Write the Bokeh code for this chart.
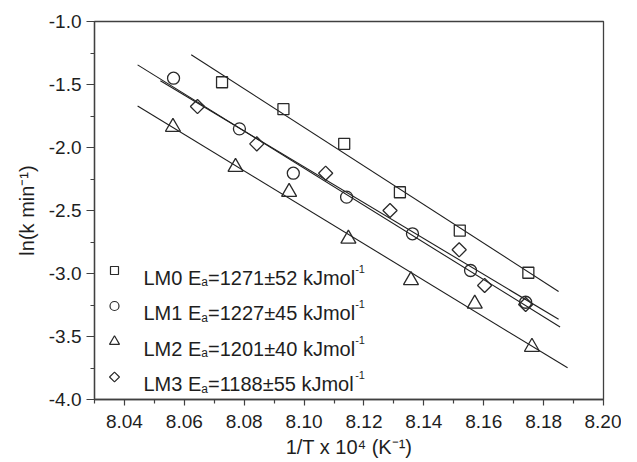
import numpy as np
from bokeh.plotting import figure
from bokeh.models import Range1d, Label, FixedTicker
from bokeh.embed import file_html
from bokeh.resources import INLINE

# ---------------- data ----------------
series_names = ["LM0", "LM1", "LM2", "LM3"]
ea_values = [1271, 1227, 1201, 1188]
ea_errors = [52, 45, 40, 55]

lm0_x = [8.0726, 8.0931, 8.1134, 8.1320, 8.1520, 8.1749]
lm0_y = [-1.482, -1.696, -1.971, -2.355, -2.659, -2.994]
lm1_x = [8.0564, 8.0784, 8.0964, 8.1142, 8.1362, 8.1556, 8.1740]
lm1_y = [-1.450, -1.852, -2.204, -2.394, -2.685, -2.976, -3.228]
lm2_x = [8.0562, 8.0771, 8.0950, 8.1148, 8.1357, 8.1570, 8.1761]
lm2_y = [-1.837, -2.155, -2.353, -2.724, -3.054, -3.240, -3.583]
lm3_x = [8.0644, 8.0842, 8.1072, 8.1287, 8.1518, 8.1603, 8.1740]
lm3_y = [-1.675, -1.971, -2.204, -2.500, -2.812, -3.095, -3.246]

# x extent of each linear fit line
fit_x_start = [8.0623, 8.0444, 8.0444, 8.0520]
fit_x_end = [8.1850, 8.1855, 8.1880, 8.1850]

x_ticks = [8.04, 8.06, 8.08, 8.10, 8.12, 8.14, 8.16, 8.18, 8.20]
x_tick_labels = ["8.04", "8.06", "8.08", "8.10", "8.12", "8.14", "8.16", "8.18", "8.20"]
x_minor = [8.03, 8.05, 8.07, 8.09, 8.11, 8.13, 8.15, 8.17, 8.19]
y_ticks = [-4.0, -3.5, -3.0, -2.5, -2.0, -1.5, -1.0]
y_tick_labels = ["-4.0", "-3.5", "-3.0", "-2.5", "-2.0", "-1.5", "-1.0"]
y_minor = [-3.75, -3.25, -2.75, -2.25, -1.75, -1.25]
x_title = "1/T x 10\u2074 (K\u207b\u00b9)"
y_title = "ln(k min\u207b\u00b9)"

# ---------------- layout ----------------
X0, X1 = 8.03, 8.20
Y0, Y1 = -4.0, -1.0
FL, FT, FW, FH = 94, 21, 509, 378   # frame position/size in px

FONT = "Liberation Sans"
INK = "#1e1e1e"
AX = "#404040"

p = figure(output_backend="svg", toolbar_location=None,
           x_range=Range1d(X0, X1), y_range=Range1d(Y0, Y1),
           frame_width=FW, frame_height=FH,
           min_border_left=FL, min_border_top=FT,
           min_border_right=18, min_border_bottom=40)
p.background_fill_color = "white"
p.border_fill_color = "white"
p.outline_line_color = AX
p.outline_line_width = 1.3
p.xgrid.visible = False
p.ygrid.visible = False

def px2x(px):
    return X0 + (px - FL) / FW * (X1 - X0)

def py2y(py):
    return Y1 - (py - FT) / FH * (Y1 - Y0)

# axes
p.xaxis.ticker = FixedTicker(ticks=x_ticks, minor_ticks=x_minor)
p.yaxis.ticker = FixedTicker(ticks=y_ticks, minor_ticks=y_minor)
p.xaxis.major_label_overrides = {t: l for t, l in zip(x_ticks, x_tick_labels)}
p.yaxis.major_label_overrides = {t: l for t, l in zip(y_ticks, y_tick_labels)}
for ax in (p.xaxis[0], p.yaxis[0]):
    ax.axis_line_color = AX
    ax.axis_line_width = 1.3
    ax.major_tick_line_color = AX
    ax.minor_tick_line_color = AX
    ax.major_tick_line_width = 1.2
    ax.minor_tick_line_width = 1.2
    ax.major_tick_in = 0
    ax.minor_tick_in = 0
    ax.major_label_text_font = FONT
    ax.major_label_text_font_size = "19px"
    ax.major_label_text_color = INK
    ax.axis_label_text_font = FONT
    ax.axis_label_text_font_size = "20px"
    ax.axis_label_text_font_style = "normal"
    ax.axis_label_text_color = INK
p.xaxis.major_tick_out = 6
p.xaxis.minor_tick_out = 4
p.yaxis.major_tick_out = 8
p.yaxis.minor_tick_out = 4
p.xaxis.major_label_standoff = 9
p.yaxis.major_label_standoff = 5
p.xaxis.axis_label = x_title
p.yaxis.axis_label = y_title
p.xaxis.axis_label_standoff = 5
p.yaxis.axis_label_standoff = 8

# fit lines (least squares on each series)
all_x = [lm0_x, lm1_x, lm2_x, lm3_x]
all_y = [lm0_y, lm1_y, lm2_y, lm3_y]
for xs, ys, xa, xb in zip(all_x, all_y, fit_x_start, fit_x_end):
    k, b = np.polyfit(xs, ys, 1)
    lx = [xa, xb]
    p.line(lx, [k * v + b for v in lx], line_color=INK, line_width=1.1)

# markers
mk = dict(fill_color=None, line_color="#2a2a2a", line_width=1.3)
p.scatter(lm0_x, lm0_y, marker="square", size=11, **mk)
p.scatter(lm1_x, lm1_y, marker="circle", size=12, **mk)
p.scatter(lm2_x, lm2_y, marker="triangle", size=15, **mk)
p.scatter(lm3_x, lm3_y, marker="square", size=10, angle=np.pi / 4, **mk)

# legend (manual, to allow sub/superscripts)
W = {"L": 556, "M": 833, " ": 278, "E": 667, "a": 556, "=": 584, "\u00b1": 549,
     "k": 500, "J": 500, "m": 833, "o": 556, "l": 222, "-": 333}
def tw(s, size):
    return sum(W.get(c, 556) for c in s) / 1000.0 * size

leg_markers = [("square", 8, 0), ("circle", 9, 0), ("triangle", 10, 0), ("square", 7, np.pi / 4)]
for i, (name, ea, err) in enumerate(zip(series_names, ea_values, ea_errors)):
    base = 277 + i * 35.5
    m, s, ang = leg_markers[i]
    p.scatter([px2x(114)], [py2y(base - 7)], marker=m, size=s, angle=ang,
              fill_color=None, line_color="#2a2a2a", line_width=1.2)
    x = 143.0
    t1 = f"{name} E"
    t2 = "a"
    t3 = f"={ea}\u00b1{err} kJmol"
    t4 = "-1"
    for txt, size, dy in ((t1, 20, 0), (t2, 12, 4.5), (t3, 20, 0), (t4, 11, -9)):
        p.add_layout(Label(x=px2x(x), y=py2y(base + dy), text=txt, text_font=FONT,
                           text_font_size=f"{size}px", text_color=INK,
                           text_baseline="alphabetic", text_align="left"))
        x += tw(txt, size)

open("out.html", "w").write(file_html(p, INLINE))
